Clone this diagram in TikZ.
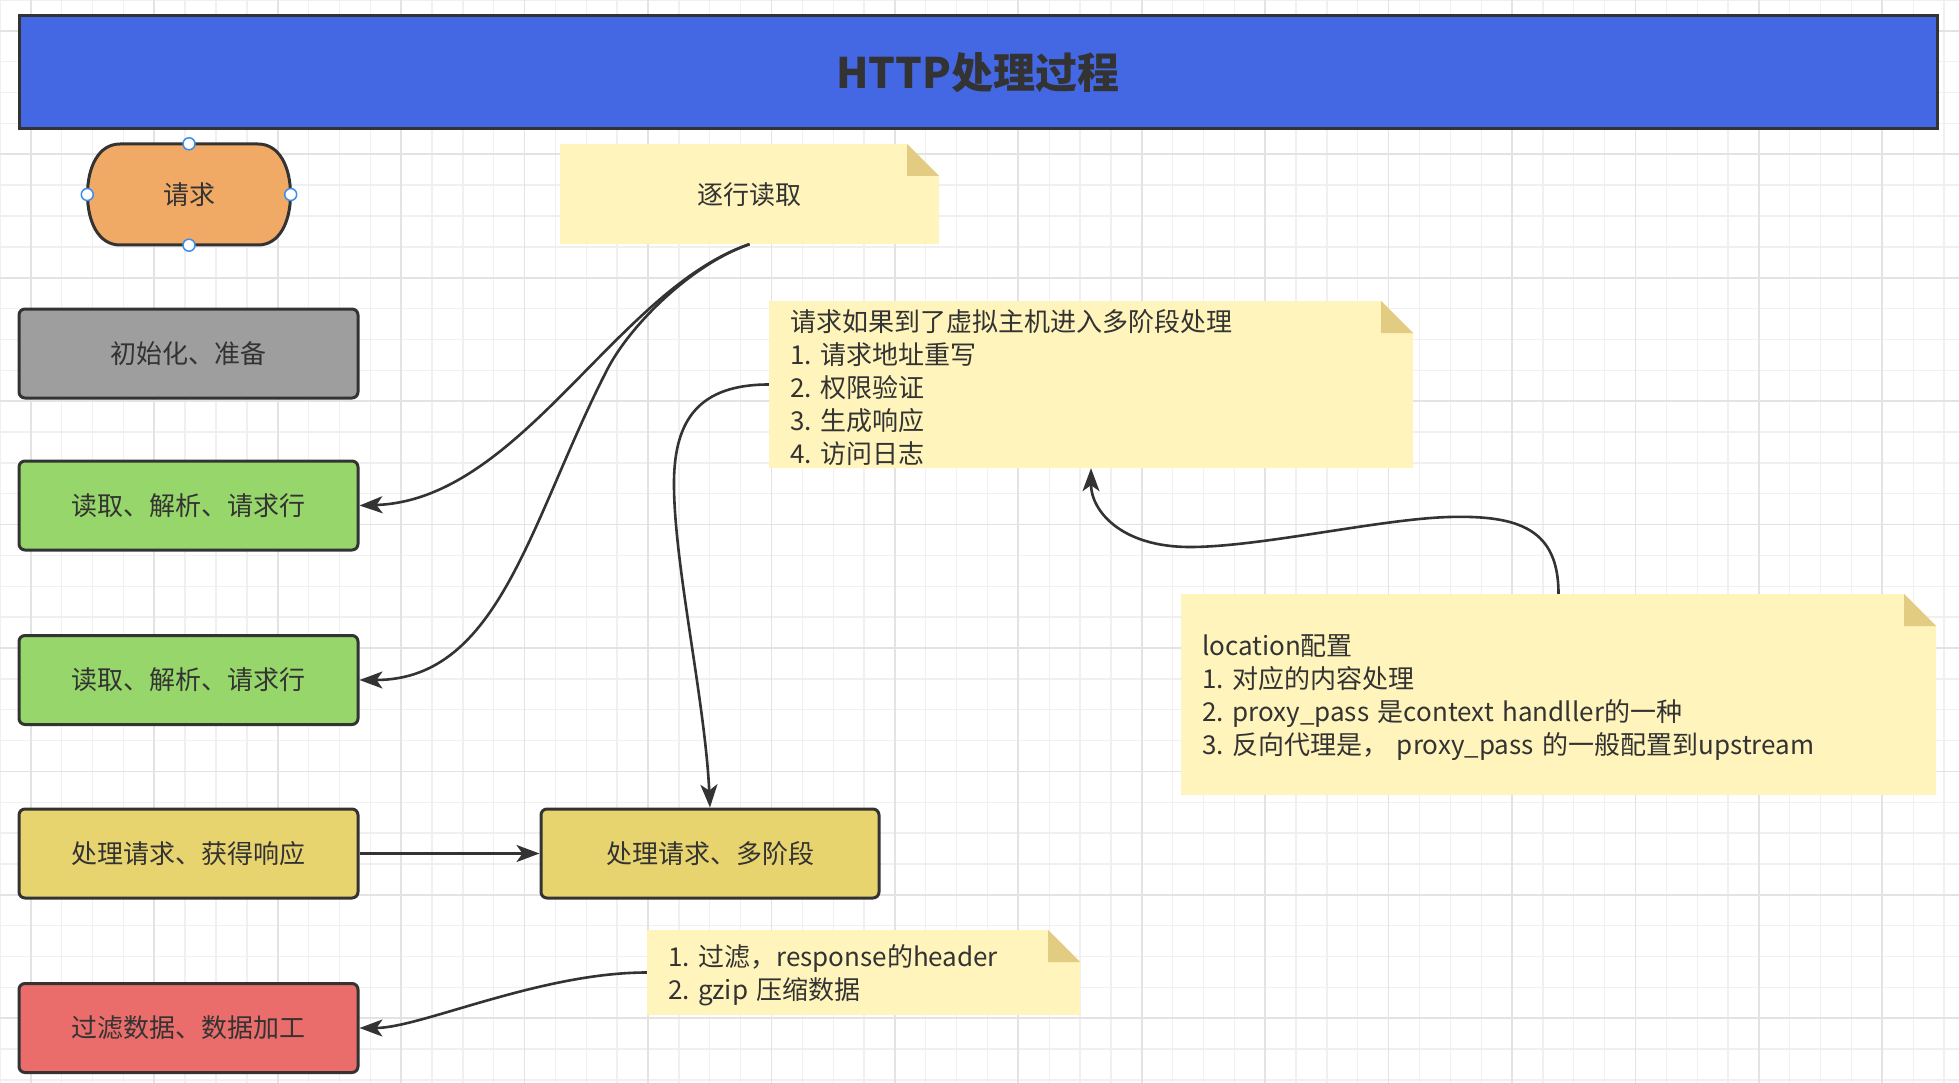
\documentclass[tikz,border=0pt]{standalone}
\usepackage{fontspec}
\setmainfont{Noto Sans CJK SC}
\usetikzlibrary{arrows.meta}
\frenchspacing
\definecolor{titleblue}{HTML}{4468E4}
\definecolor{bordc}{HTML}{333333}
\definecolor{txtc}{HTML}{333333}
\definecolor{orangec}{HTML}{F1AA66}
\definecolor{grayc}{HTML}{9E9E9E}
\definecolor{greenc}{HTML}{97D66A}
\definecolor{yellowc}{HTML}{E8D46F}
\definecolor{redc}{HTML}{EB6D6B}
\definecolor{notec}{HTML}{FFF4BB}
\definecolor{foldc}{HTML}{E1CC82}
\definecolor{gridminor}{HTML}{F0F0F0}
\definecolor{gridmajor}{HTML}{E3E3E3}
\definecolor{handlec}{HTML}{3D8EEB}
\newcommand{\firstlift}{\rule{0pt}{28pt}}
\begin{document}
\begin{tikzpicture}[x=1pt,y=-1pt,
  every node/.style={text=txtc, font=\fontsize{26pt}{33pt}\selectfont},
  box/.style={rectangle, rounded corners=6pt, draw=bordc, line width=3pt,
    minimum width=339pt, minimum height=89pt, inner sep=0pt},
  notebox/.style={rectangle, inner ysep=0pt, inner xsep=21pt,
    path picture={
      \fill[notec] (path picture bounding box.north west)
        -- ([xshift=-32pt]path picture bounding box.north east)
        -- ([yshift=-32pt]path picture bounding box.north east)
        -- (path picture bounding box.south east)
        -- (path picture bounding box.south west) -- cycle;
      \fill[foldc] ([xshift=-32pt]path picture bounding box.north east)
        -- ([xshift=-32pt,yshift=-32pt]path picture bounding box.north east)
        -- ([yshift=-32pt]path picture bounding box.north east) -- cycle;
    }},
  conn/.style={draw=bordc, line width=2.6pt,
    -{Stealth[length=23pt,width=17pt,inset=6pt]}},
  handle/.style={draw=handlec, fill=white, line width=1.5pt},
]
\useasboundingbox (0,0) rectangle (1959,1083);
\fill[white] (0,0) rectangle (1959,1083);
% grid
\foreach \i in {0,...,63} \draw[gridminor, line width=1.3pt] (\i*30.857,0) -- (\i*30.857,1083);
\foreach \j in {0,...,35} \draw[gridminor, line width=1.3pt] (0,\j*30.857) -- (1959,\j*30.857);
\foreach \i in {1,5,...,61} \draw[gridmajor, line width=1.8pt] (\i*30.857,0) -- (\i*30.857,1083);
\foreach \j in {1,5,...,33} \draw[gridmajor, line width=1.8pt] (0,\j*30.857) -- (1959,\j*30.857);

% title
\node[draw=bordc, line width=3pt, fill=titleblue, minimum width=1918pt,
  minimum height=113pt, inner sep=0pt,
  font=\fontsize{42pt}{50pt}\selectfont\bfseries] (title) at (978,72.5) {HTTP处理过程};

% request shape
\path[fill=orangec] (120,144) -- (258,144) .. controls (280,144) and (290.5,168) .. (290.5,194.5)
  .. controls (290.5,221) and (280,245) .. (258,245) -- (120,245)
  .. controls (98,245) and (87.5,221) .. (87.5,194.5)
  .. controls (87.5,168) and (98,144) .. (120,144) -- cycle;
\node[minimum width=203pt, minimum height=101pt, inner sep=0pt] (req) at (189,194.5) {请求};
\draw[bordc, line width=3pt] (120,144) -- (258,144) .. controls (280,144) and (290.5,168) .. (290.5,194.5)
  .. controls (290.5,221) and (280,245) .. (258,245) -- (120,245)
  .. controls (98,245) and (87.5,221) .. (87.5,194.5)
  .. controls (87.5,168) and (98,144) .. (120,144) -- cycle;
\draw[handle] (req.north) circle (6pt);
\draw[handle] (req.south) circle (6pt);
\draw[handle] (req.west) circle (6pt);
\draw[handle] (req.east) circle (6pt);

% boxes
\node[box, fill=grayc] (b0) at (188.5,353.5) {初始化、准备};
\node[box, fill=greenc] (g1) at (188.5,505.5) {读取、解析、请求行};
\node[box, fill=greenc] (g2) at (188.5,680) {读取、解析、请求行};
\node[box, fill=yellowc] (y1) at (188.5,853.5) {处理请求、获得响应};
\node[box, fill=yellowc, minimum width=338pt] (y2) at (710,853.5) {处理请求、多阶段};
\node[box, fill=redc] (r1) at (188.5,1028) {过滤数据、数据加工};

% notes
\node[notebox, text width=337pt, minimum height=100pt, align=center] (n1) at (749.5,194) {\rule{0pt}{24pt}逐行读取};
\node[notebox, text width=602pt, minimum height=167pt, align=left] (n2) at (1091,384.5)
  {\firstlift 请求如果到了虚拟主机进入多阶段处理\\1. 请求地址重写\\2. 权限验证\\3. 生成响应\\4. 访问日志};
\node[notebox, text width=713pt, minimum height=201pt, align=left] (n3) at (1558.5,694.5)
  {\firstlift location配置\\1. 对应的内容处理\\2. proxy\_pass 是context handller的一种\\3. 反向代理是， proxy\_pass 的一般配置到upstream};
\node[notebox, text width=391pt, minimum height=85pt, align=left] (n4) at (863.5,972.5)
  {\firstlift 1. 过滤，response的header\\2. gzip 压缩数据};

% connectors
\draw[conn] (n1.south) .. controls +(-133,45) and +(161,-5) .. (g1.east);
\draw[conn] (n1.south) .. controls +(-58,20) and (630,325) .. (607,370)
  .. controls (530,520) and (500,680) .. (g2.east);
\draw[conn] (n2.west) .. controls +(-70,0) and (675,420) .. (674,480)
  .. controls (673,560) and (705,700) .. (y2.north);
\draw[conn] (n3.north) .. controls +(0,-64) and (1520,515) .. (1449,517)
  .. controls (1380,519) and (1260,547) .. (1190,547)
  .. controls (1120,547) and (1091,510) .. (n2.south);
\draw[conn] (y1.east) -- (y2.west);
\draw[conn] (n4.west) .. controls +(-107,0) and +(61,0) .. (r1.east);
\end{tikzpicture}
\end{document}
